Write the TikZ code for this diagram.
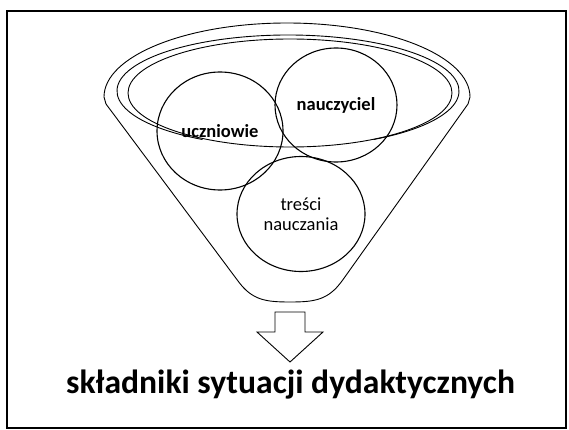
\documentclass[tikz,border=0pt]{standalone}
\usepackage{fontspec}
\setmainfont{Carlito}
\usetikzlibrary{shapes.geometric}
\begin{document}
\begin{tikzpicture}[x=1pt,y=-1pt,
  ring/.style={draw=black,line width=0.9pt},
  ball/.style={ellipse,draw=black,line width=1.1pt,inner sep=0pt,align=center},
  lbl/.style={font=\fontsize{18.5}{20}\selectfont},
  blbl/.style={font=\bfseries\fontsize{18.5}{20}\selectfont},
]
\useasboundingbox (0,0) rectangle (569,430);
\draw[line width=1.5pt] (7,11) rectangle (566,428);
% funnel outline
\draw[ring] (470,97) arc[start angle=0,end angle=180,x radius=183pt,y radius=74pt]
  -- (106,104) -- (238,281)
  .. controls (252,300) and (265,302) .. (290,302)
  .. controls (315,302) and (328,300) .. (342,281)
  -- (468,104) -- cycle;
% rim
\draw[ring] (202.5,139.5) arc[start angle=240,end angle=-60,x radius=171pt,y radius=56pt];
\draw[ring] (290,93) ellipse[x radius=162pt,y radius=54pt];
% circles
\node[ball,blbl,minimum width=126pt,minimum height=118pt] (u) at (220,131) {uczniowie};
\node[ball,blbl,minimum width=122pt,minimum height=114pt] (n) at (336,105) {nauczyciel};
\node[ball,lbl,minimum width=128pt,minimum height=115pt] (t) at (301,214) {treści\\nauczania};
% arrow
\draw[ring,fill=white] (275,312) -- (305,312) -- (305,332) -- (323,332) -- (290,362) -- (257,332) -- (275,332) -- cycle;
% title
\node[font=\bfseries\fontsize{33.6}{40}\selectfont,anchor=base,inner sep=0pt] (title) at (290.5,393) {składniki sytuacji dydaktycznych};
\end{tikzpicture}
\end{document}
